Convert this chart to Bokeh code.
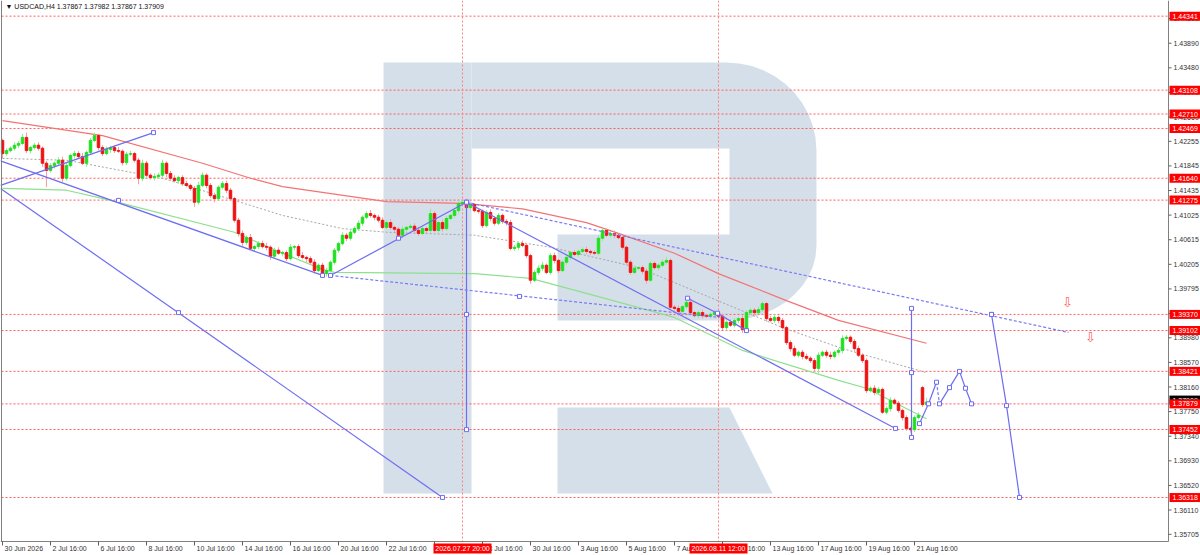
import numpy as np
from bokeh.plotting import figure
from bokeh.models import Range1d
from bokeh.embed import file_html
from bokeh.resources import INLINE
from bokeh.core.properties import value

FONT = "Liberation Sans"

# ---------------- data ----------------
# USDCAD H4 bars, index 0 = 30 Jun 2026 16:00
first_open = 1.4227
closes = [
    1.4205, 1.4210, 1.4214, 1.4219, 1.4222, 1.4232, 1.4210, 1.4215, 1.4219, 1.4214, 1.4189, 1.4177,
    1.4185, 1.4189, 1.4194, 1.4164, 1.4185, 1.4202, 1.4205, 1.4200, 1.4189, 1.4207, 1.4227, 1.4235,
    1.4215, 1.4205, 1.4212, 1.4215, 1.4210, 1.4209, 1.4190, 1.4204, 1.4205, 1.4194, 1.4164, 1.4189,
    1.4169, 1.4165, 1.4167, 1.4169, 1.4189, 1.4172, 1.4164, 1.4160, 1.4165, 1.4155, 1.4152, 1.4147,
    1.4124, 1.4152, 1.4169, 1.4152, 1.4135, 1.4130, 1.4149, 1.4155, 1.4144, 1.4130, 1.4094, 1.4072,
    1.4057, 1.4065, 1.4047, 1.4050, 1.4055, 1.4050, 1.4049, 1.4034, 1.4044, 1.4039, 1.4040, 1.4030,
    1.4049, 1.4050, 1.4035, 1.4032, 1.4030, 1.4024, 1.4010, 1.4019, 1.4005, 1.4010, 1.4024, 1.4044,
    1.4055, 1.4069, 1.4064, 1.4074, 1.4080, 1.4089, 1.4099, 1.4105, 1.4102, 1.4099, 1.4094, 1.4082,
    1.4090, 1.4082, 1.4079, 1.4069, 1.4079, 1.4082, 1.4084, 1.4077, 1.4072, 1.4080, 1.4077, 1.4105,
    1.4077, 1.4090, 1.4080, 1.4097, 1.4102, 1.4110, 1.4122, 1.4124, 1.4115, 1.4120, 1.4110, 1.4109,
    1.4085, 1.4107, 1.4097, 1.4089, 1.4102, 1.4092, 1.4090, 1.4047, 1.4049, 1.4055, 1.4052, 1.4035,
    1.3994, 1.4007, 1.4014, 1.4019, 1.4007, 1.4035, 1.4027, 1.4010, 1.4024, 1.4032, 1.4040, 1.4037,
    1.4042, 1.4045, 1.4042, 1.4040, 1.4039, 1.4064, 1.4077, 1.4069, 1.4072, 1.4069, 1.4065, 1.4049,
    1.4024, 1.4007, 1.4014, 1.4015, 1.4009, 1.3994, 1.4022, 1.4015, 1.4019, 1.4024, 1.4027, 1.3949,
    1.3947, 1.3942, 1.3950, 1.3957, 1.3940, 1.3935, 1.3940, 1.3935, 1.3934, 1.3937, 1.3940, 1.3934,
    1.3915, 1.3924, 1.3919, 1.3927, 1.3930, 1.3912, 1.3940, 1.3944, 1.3940, 1.3945, 1.3955, 1.3930,
    1.3927, 1.3932, 1.3927, 1.3915, 1.3890, 1.3880, 1.3869, 1.3874, 1.3867, 1.3864, 1.3860, 1.3847,
    1.3869, 1.3874, 1.3869, 1.3867, 1.3874, 1.3877, 1.3897, 1.3899, 1.3892, 1.3880, 1.3869, 1.3860,
    1.3810, 1.3814, 1.3807, 1.3812, 1.3774, 1.3780, 1.3794, 1.3789, 1.3777, 1.3765, 1.3747, 1.3745,
    1.3765, 1.3769, 1.37867, 1.37909,
]
# wick lengths in pips (0.0001)
upper_wick_pips = [
    3, 4, 3, 5, 4, 6, 8, 3, 4, 5, 3, 4,
    4, 3, 5, 6, 4, 3, 5, 4, 6, 3, 4, 5,
    3, 4, 5, 3, 4, 6, 3, 4, 5, 3, 4, 6,
    4, 3, 5, 4, 6, 3, 4, 5, 3, 4, 5, 3,
    4, 6, 5, 3, 4, 5, 3, 4, 5, 4, 3, 4,
    5, 4, 6, 3, 4, 5, 6, 3, 4, 5, 3, 4,
    5, 3, 4, 6, 3, 4, 5, 3, 4, 5, 3, 4,
    3, 5, 4, 3, 4, 5, 3, 4, 6, 3, 4, 5,
    4, 6, 3, 4, 5, 3, 4, 5, 6, 4, 3, 8,
    4, 3, 5, 4, 3, 4, 5, 3, 6, 4, 3, 4,
    3, 4, 5, 3, 4, 3, 4, 5, 4, 3, 5, 4,
    3, 4, 5, 6, 3, 4, 5, 3, 4, 5, 3, 4,
    3, 4, 5, 3, 4, 5, 4, 3, 4, 5, 3, 4,
    3, 4, 5, 3, 4, 5, 4, 3, 4, 5, 6, 3,
    4, 5, 3, 4, 8, 3, 4, 5, 3, 4, 5, 3,
    4, 3, 5, 4, 3, 5, 4, 3, 4, 5, 4, 3,
    4, 5, 3, 4, 3, 4, 5, 3, 4, 5, 3, 4,
    5, 3, 4, 6, 3, 4, 5, 4, 3, 4, 5, 3,
    4, 3, 5, 4, 3, 4, 5, 3, 4, 3, 4, 3,
    4, 5, 3, 7,
]
lower_wick_pips = [
    8, 4, 3, 4, 5, 3, 4, 5, 3, 4, 6, 28,
    4, 5, 3, 6, 4, 3, 5, 4, 3, 6, 4, 3,
    5, 4, 3, 6, 4, 3, 5, 4, 3, 4, 10, 5,
    4, 3, 5, 4, 3, 6, 4, 3, 5, 4, 3, 4,
    8, 4, 3, 5, 4, 6, 3, 4, 5, 3, 4, 5,
    6, 4, 3, 5, 4, 3, 5, 6, 4, 3, 5, 4,
    3, 5, 4, 3, 6, 4, 5, 3, 4, 5, 3, 4,
    4, 3, 5, 4, 3, 4, 5, 3, 4, 5, 4, 3,
    3, 4, 5, 3, 4, 5, 3, 4, 4, 3, 5, 4,
    3, 4, 5, 4, 3, 4, 5, 3, 4, 5, 3, 4,
    4, 3, 5, 4, 3, 4, 5, 3, 4, 5, 3, 4,
    6, 3, 4, 5, 3, 4, 5, 4, 3, 4, 5, 3,
    4, 3, 5, 4, 3, 4, 5, 3, 4, 5, 3, 4,
    5, 4, 3, 4, 5, 6, 3, 4, 5, 3, 4, 5,
    4, 8, 3, 4, 5, 3, 4, 5, 3, 4, 5, 3,
    4, 5, 3, 4, 5, 6, 3, 4, 5, 3, 4, 5,
    3, 4, 5, 3, 4, 5, 3, 4, 5, 3, 4, 6,
    8, 3, 4, 5, 3, 4, 5, 3, 4, 5, 3, 4,
    4, 3, 5, 4, 3, 4, 5, 3, 4, 5, 4, 5,
    4, 3, 4, 0,
]
gap_opens = {230: 1.3815}  # Monday open

# moving averages (bar index, price)
ma_red_idx = [0, 25, 50, 62, 70, 96, 115, 130, 146, 154, 168, 179, 196, 209, 231]
ma_red = [1.4260, 1.4235, 1.4189, 1.4164, 1.4150, 1.4125, 1.4122, 1.4113, 1.4090, 1.4072,
          1.4039, 1.4005, 1.3960, 1.3927, 1.3889]
ma_green_idx = [0, 16, 27, 58, 70, 80, 83, 118, 132, 146, 168, 185, 209, 216, 231]
ma_green = [1.4147, 1.4144, 1.4127, 1.4074, 1.4039, 1.4012, 1.4007, 1.4005, 1.3997, 1.3972,
            1.3932, 1.3877, 1.3827, 1.3814, 1.3763]
ma_gray_idx = [0, 16, 40, 58, 70, 85, 96, 118, 137, 159, 177, 195, 210, 231]
ma_gray = [1.4197, 1.4194, 1.4164, 1.4127, 1.4102, 1.4080, 1.4074, 1.4069, 1.4049, 1.4015,
           1.3965, 1.3915, 1.3880, 1.3840]

levels = [1.44341, 1.43108, 1.42710, 1.42469, 1.41640, 1.41275,
          1.39370, 1.39102, 1.38421, 1.37879, 1.37452, 1.36318]
current_price = 1.37909
header = "\u25bc USDCAD,H4  1.37867 1.37982 1.37867 1.37909"

price_ticks = [1.44300, 1.43890, 1.43480, 1.43070, 1.42660, 1.42255, 1.41845, 1.41435,
               1.41025, 1.40615, 1.40205, 1.39795, 1.39385, 1.38980, 1.38570, 1.38160,
               1.37750, 1.37340, 1.36930, 1.36520, 1.36110, 1.35705]
time_tick_idx = [0, 12, 24, 36, 48, 60, 72, 84, 96, 108, 120, 132, 144, 156, 168, 180,
                 192, 204, 216, 228]
time_tick_labels = ["30 Jun 2026", "2 Jul 16:00", "6 Jul 16:00", "8 Jul 16:00", "10 Jul 16:00",
                    "14 Jul 16:00", "16 Jul 16:00", "20 Jul 16:00", "22 Jul 16:00", "24 Jul 16:00",
                    "28 Jul 16:00", "30 Jul 16:00", "3 Aug 16:00", "5 Aug 16:00", "7 Aug 16:00",
                    "11 Aug 16:00", "13 Aug 16:00", "17 Aug 16:00", "19 Aug 16:00", "21 Aug 16:00"]
marked_idx = [115, 179]
marked_labels = ["2026.07.27 20:00", "2026.08.11 12:00"]

# analysis drawings (bar index, price)
line_a_idx, line_a = [-0.5, 80], [1.4193, 1.4002]
line_b_idx, line_b = [-0.5, 37.75], [1.4152, 1.4240]
line_c_idx, line_c = [-0.5, 110], [1.4147, 1.3632]
line_d_idx, line_d = [82, 116], [1.4002, 1.4124]
line_e_idx, line_e = [116, 223.25], [1.4124, 1.3747]
line_f_idx, line_f = [82, 179.25], [1.4002, 1.3932]
line_g_idx, line_g = [116, 266.5], [1.4124, 1.3907]
line_l_idx, line_l = [171.25, 178.75, 186], [1.3964, 1.3939, 1.3910]
vert_h_idx, vert_h = [116, 116, 116], [1.4124, 1.3937, 1.3745]
vert_i_idx, vert_i = [227.25, 227.25, 227.25], [1.3947, 1.3840, 1.3732]
zig_a_idx, zig_a = [229.25, 231.5, 233.5], [1.3755, 1.3788, 1.3824]
zig_b_idx, zig_b = [233.5, 234.25], [1.3824, 1.3788]
zig_c_idx, zig_c = [234.25, 236.75, 239.25, 240.75, 242.25], [1.3788, 1.3815, 1.3842, 1.3814, 1.3788]
drop_idx, drop = [247.25, 251, 254.25], [1.3937, 1.3785, 1.3632]
extra_mark_idx = [29, 37.75, 44, 110, 99, 223.25, 129.25, 247.25, 82, 80]
extra_mark = [1.4127, 1.4240, 1.3940, 1.3632, 1.4064, 1.3747, 1.3967, 1.3937, 1.4002, 1.4002]
arrow_idx, arrow_price = [266.25, 272], [1.3957, 1.3899]


# ---------------- layout helpers (screen px of the 1200x555 picture) ----------------
def bx(x):
    return (x - 2) / 4.0


def py(y):
    return 1.44602 - y / 6000.0


X_AX, Y_AX = bx(1168), py(541)  # right price scale / bottom time scale

p = figure(width=1200, height=555, x_range=Range1d(bx(0), bx(1200)),
           y_range=Range1d(py(555), py(0)), x_axis_location=None, y_axis_location=None,
           output_backend="svg", toolbar_location=None,
           min_border_left=0, min_border_right=0, min_border_top=0, min_border_bottom=0,
           margin=0)
p.grid.visible = False
p.outline_line_color = None
p.background_fill_color = "white"
p.border_fill_color = "white"


# watermark "R"
def shape(pts):
    return [bx(a) for a, b in pts], [py(b) for a, b in pts]


t1 = np.linspace(np.pi / 2, 0, 12)
t2 = np.linspace(0, -np.pi / 2, 12)
bowl = [(471, 62), (726, 62)]
bowl += [(726 + 90 * np.cos(t), 150 - 88 * np.sin(t)) for t in t1]
bowl += [(726 + 90 * np.cos(t), 245 - 75 * np.sin(t)) for t in t2]
bowl += [(557, 320), (557, 234), (729, 234), (729, 148), (471, 148)]
stem = [(383, 62), (471, 62), (471, 493), (383, 493)]
leg = [(557, 407), (729, 407), (772, 493), (557, 493)]
pieces = [shape(s) for s in (stem, bowl, leg)]
p.patches([a for a, b in pieces], [b for a, b in pieces], fill_color="#d5dfea", line_color=None)

# level lines and time markers
n_lv = len(levels)
p.segment(x0=[bx(1)] * n_lv, y0=levels, x1=[X_AX] * n_lv, y1=levels,
          line_color="#ff5c5c", line_dash="2 2", line_width=1)
p.segment(x0=marked_idx, y0=[py(0)] * 2, x1=marked_idx, y1=[Y_AX] * 2,
          line_color="#ff8080", line_dash="2 2", line_width=1)

# moving averages
p.line(ma_red_idx, ma_red, line_color="#f27474", line_width=1.2)
p.line(ma_green_idx, ma_green, line_color="#8ee08e", line_width=1.2)
p.line(ma_gray_idx, ma_gray, line_color="#a5a5a5", line_width=1, line_dash="2 2")

# candles
idx = np.arange(len(closes))
c = np.array(closes)
o = np.array([first_open] + closes[:-1])
for k, v in gap_opens.items():
    o[k] = v
hi = np.maximum(o, c) + np.array(upper_wick_pips) * 1e-4
lo = np.minimum(o, c) - np.array(lower_wick_pips) * 1e-4
up = c >= o
dn = ~up
p.segment(idx[up], hi[up], idx[up], lo[up], line_color="#9be89b", line_width=1)
p.segment(idx[dn], hi[dn], idx[dn], lo[dn], line_color="#f5a0a0", line_width=1)
p.vbar(x=idx[up], bottom=o[up], top=c[up], width=0.62, fill_color="#1fe01f", line_color="#1fe01f")
p.vbar(x=idx[dn], bottom=c[dn], top=o[dn], width=0.62, fill_color="#ee1111", line_color="#ee1111")

# analysis lines
BLUE = "#6d6df2"
for xs, ys in [(line_a_idx, line_a), (line_b_idx, line_b), (line_c_idx, line_c),
               (line_d_idx, line_d), (line_e_idx, line_e), (line_l_idx, line_l),
               (vert_h_idx, vert_h), (vert_i_idx, vert_i), (zig_a_idx, zig_a),
               (zig_c_idx, zig_c), (drop_idx, drop)]:
    p.line(xs, ys, line_color=BLUE, line_width=1.2)
for xs, ys in [(line_f_idx, line_f), (line_g_idx, line_g), (zig_b_idx, zig_b)]:
    p.line(xs, ys, line_color="#7a7af4", line_width=1.2, line_dash="3 2")

mk_x = (line_l_idx + vert_h_idx + vert_i_idx + zig_a_idx + zig_c_idx + drop_idx
        + line_g_idx[:1] + extra_mark_idx)
mk_y = line_l + vert_h + vert_i + zig_a + zig_c + drop + line_g[:1] + extra_mark
p.scatter(mk_x, mk_y, marker="square", size=4, fill_color="white", line_color=BLUE, line_width=1)

p.text(arrow_idx, arrow_price, text=["\u21e9"] * 2, text_color="#ff5a5a",
       text_font=value("DejaVu Sans"), text_font_size="13px",
       text_align="center", text_baseline="middle")

# frame lines
AXIS_GREY = "#808080"
p.segment(x0=[bx(1), bx(0), X_AX], y0=[py(0), Y_AX, py(0)],
          x1=[bx(1), X_AX, X_AX], y1=[Y_AX, Y_AX, Y_AX], line_color=AXIS_GREY, line_width=1)

# price scale
n_pt = len(price_ticks)
p.segment(x0=[X_AX] * n_pt, y0=price_ticks, x1=[bx(1171)] * n_pt, y1=price_ticks,
          line_color="#606060", line_width=1)
p.text(x=[bx(1173)] * n_pt, y=price_ticks, text=[f"{t:.5f}" for t in price_ticks],
       text_font=value(FONT), text_font_size="7px", text_color="#333333",
       text_align="left", text_baseline="middle")

# time scale
n_tt = len(time_tick_idx)
p.segment(x0=time_tick_idx, y0=[Y_AX] * n_tt, x1=time_tick_idx, y1=[py(545)] * n_tt,
          line_color="#606060", line_width=1)
p.text(x=time_tick_idx, y=[py(548)] * n_tt, text=time_tick_labels, x_offset=2,
       text_font=value(FONT), text_font_size="7px", text_color="#333333",
       text_align="left", text_baseline="middle")
p.rect(x=marked_idx, y=[py(548)] * 2, width=58, height=10, width_units="screen",
       height_units="screen", fill_color="#ff0000", line_color=None)
p.text(x=marked_idx, y=[py(548)] * 2, text=marked_labels, text_font=value(FONT),
       text_font_size="7px", text_color="white", text_align="center", text_baseline="middle")

# price boxes on the right scale (the black one sits just above its red neighbour)
cur_y = current_price + 2 / 6000.0
p.rect(x=[bx(1184.5)], y=[cur_y], width=31, height=9, width_units="screen",
       height_units="screen", fill_color="black", line_color=None)
p.text(x=[bx(1172)], y=[cur_y], text=[f"{current_price:.5f}"],
       text_font=value(FONT), text_font_size="7px", text_color="white",
       text_align="left", text_baseline="middle")
p.rect(x=[bx(1184.5)] * n_lv, y=levels, width=31, height=9, width_units="screen",
       height_units="screen", fill_color="#ff0000", line_color=None)
p.text(x=[bx(1172)] * n_lv, y=levels, text=[f"{lv:.5f}" for lv in levels],
       text_font=value(FONT), text_font_size="7px", text_color="white",
       text_align="left", text_baseline="middle")

# header
p.text(x=[bx(5)], y=[py(6)], text=[header], text_font=value(FONT), text_font_size="7px",
       text_color="#111111", text_align="left", text_baseline="middle")

open("out.html", "w").write(file_html(p, INLINE))
